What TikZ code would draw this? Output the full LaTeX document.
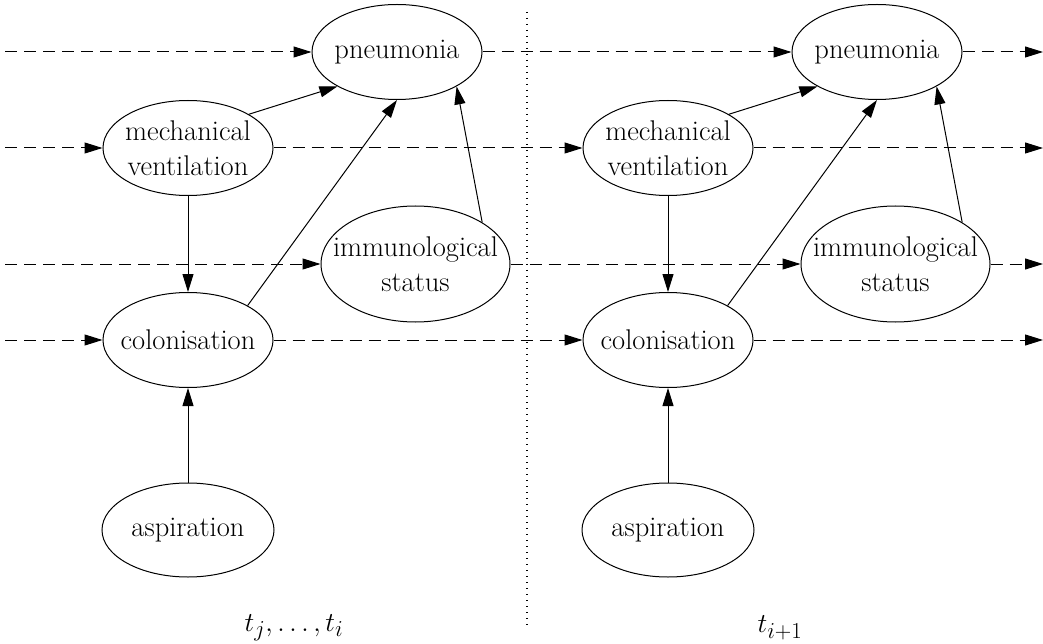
\documentclass[tikz,border=0pt]{standalone}
\usetikzlibrary{arrows.meta,shapes.geometric}
\begin{document}
\begin{tikzpicture}[x=1pt,y=-1pt,line width=1pt,
  var/.style={ellipse,draw,align=center,inner sep=-40pt,
    font=\fontsize{28.5}{35}\selectfont},
  cause/.style={-{Triangle[length=18pt,width=11pt]}},
  carry/.style={cause,dash pattern=on 12pt off 7pt},
  slicelabel/.style={font=\fontsize{28.5}{34}\selectfont}]
\useasboundingbox (0,0) rectangle (1043,644);

% two time slices of the same network
\foreach \s/\dx in {A/0,B/480}{
  \node[var,minimum width=170pt,minimum height=95pt] (pn\s) at (397+\dx,52) {pneumonia};
  \node[var,minimum width=170pt,minimum height=95pt] (mv\s) at (188+\dx,148) {mechanical\\ventilation};
  \node[var,minimum width=189pt,minimum height=116pt] (im\s) at (415.5+\dx,264) {immunological\\status};
  \node[var,minimum width=170pt,minimum height=95pt] (co\s) at (188+\dx,340) {colonisation};
  \node[var,minimum width=172pt,minimum height=94pt] (as\s) at (188+\dx,530) {aspiration};
  \draw[cause] (mv\s.29) -- (pn\s.210);
  \draw[cause] (mv\s.south) -- (co\s.north);
  \draw[cause] (as\s.north) -- (co\s.south);
  \draw[cause] (co\s.30) -- (pn\s.270);
  \draw[cause] (im\s.32) -- (pn\s.330);
}

% temporal links into, across and out of the slices
\coordinate (inPn) at (5,52);   \coordinate (outPn) at (1043,52);
\coordinate (inMv) at (5,148);  \coordinate (outMv) at (1043,148);
\coordinate (inIm) at (5,264);  \coordinate (outIm) at (1043,264);
\coordinate (inCo) at (5,340);  \coordinate (outCo) at (1043,340);
\draw[carry] (inPn) -- (pnA.west);
\draw[carry] (pnA.east) -- (pnB.west);
\draw[carry] (pnB.east) -- (outPn);
\draw[carry] (inMv) -- (mvA.west);
\draw[carry] (mvA.east) -- (mvB.west);
\draw[carry] (mvB.east) -- (outMv);
\draw[carry] (inIm) -- (imA.west);
\draw[carry] (imA.east) -- (imB.west);
\draw[carry] (imB.east) -- (outIm);
\draw[carry] (inCo) -- (coA.west);
\draw[carry] (coA.east) -- (coB.west);
\draw[carry] (coB.east) -- (outCo);

% slice separator
\coordinate (sepTop) at (527,12);
\coordinate (sepBot) at (527,628);
\draw[line width=1.2pt,dash pattern=on 1.2pt off 4.8pt] (sepTop) -- (sepBot);

% slice labels
\node[slicelabel] (lblA) at (294,628) {\scalebox{1.1}{$t_j,\ldots,t_i$}};
\node[slicelabel] (lblB) at (780,628) {\scalebox{1.1}{$t_{i+1}$}};
\end{tikzpicture}
\end{document}
